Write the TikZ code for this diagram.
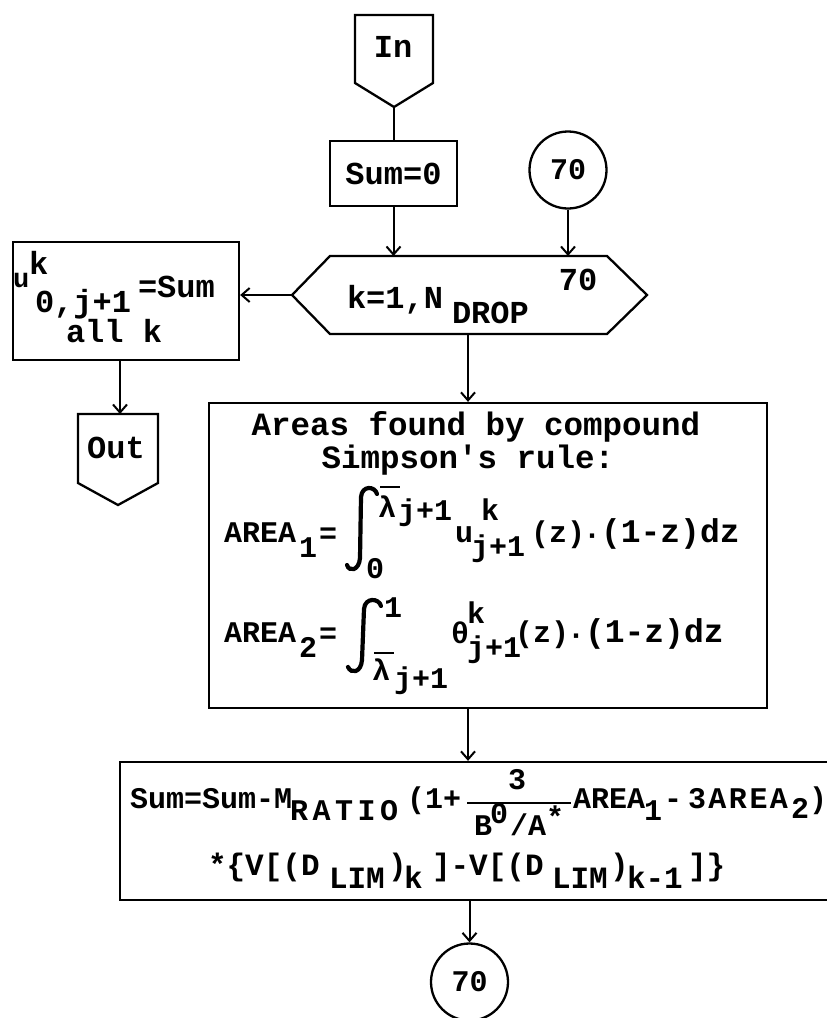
\documentclass[tikz,border=0pt]{standalone}
\usepackage{fontspec}
\newfontfamily\pf{Liberation Mono}
\usetikzlibrary{arrows.meta,shapes.geometric}
\newcommand\pfsz[1]{\pf\bfseries\fontsize{#1}{#1}\selectfont}
\begin{document}
\begin{tikzpicture}[x=1pt,y=-1pt,
  outline/.style={draw, line width=2.3pt, line join=miter},
  arr/.style={line width=2pt, -{Straight Barb[length=8pt,width=14pt]}},
  ln/.style={line width=2pt},
  bar/.style={line width=2.4pt},
  intg/.style={line width=4.2pt, line cap=round},
  t/.style={inner sep=0pt, outer sep=0pt, anchor=base west, font=\pfsz{30}},
  tl/.style={inner sep=0pt, outer sep=0pt, anchor=base west, font=\pfsz{32}},
  tc/.style={inner sep=0pt, outer sep=0pt, anchor=center, font=\pfsz{32}},
  conn/.style={outline, circle, minimum size=77pt, inner sep=0pt, font=\pfsz{30}}]
\useasboundingbox (0,0) rectangle (827,1018);
\fill[white] (0,0) rectangle (827,1018);
\clip (0,0) rectangle (827,1018);

% ---------- entry connector and initialisation ----------
\draw[outline] (355,15) -- (433,15) -- (433,83) -- (394,107) -- (355,83) -- cycle;
\coordinate (inTip) at (394,107);
\node[tc] (inTxt) at (393,47) {In};

\node[outline, minimum width=127pt, minimum height=65pt, inner sep=0pt, font=\pfsz{32}]
  (sum) at (393.5,173.5) {Sum=0};

\node[conn] (c70) at (568,170) {70};

% ---------- loop header ----------
\draw[outline] (330,256) -- (607,256) -- (647,295) -- (607,334) -- (330,334) -- (292,295) -- cycle;
\coordinate (hexL) at (292,295);
\coordinate (hexB) at (468,334);
\coordinate (hexTA) at (393.5,256);
\coordinate (hexTB) at (568,256);
\node[tl] (kN) at (347,308) {k=1,N};
\node[tl] (kDrop) at (452,323) {DROP};
\node[tc] (h70) at (578,280) {70};

% ---------- exit branch ----------
\node[outline, minimum width=226pt, minimum height=118pt, inner sep=0pt] (setu) at (126,301) {};
\node[tl, font=\pfsz{27}] (su) at (13,287) {u};
\node[tl] (sk) at (29,274) {k};
\node[tl] (sidx) at (35,312) {0,j+1};
\node[tl] (ssum) at (138,297) {=Sum};
\node[tl] (sall) at (66,342) {all k};

\draw[outline] (78,414) -- (158,414) -- (158,483) -- (118,505) -- (78,483) -- cycle;
\coordinate (outTop) at (120,414);
\node[tc] (outTxt) at (116,448) {Out};

% ---------- area integrals ----------
\node[outline, minimum width=558pt, minimum height=305pt, inner sep=0pt] (areas) at (488,555.5) {};
\node[tc, font=\pfsz{32.5}] (ar1) at (476,427) {Areas found by compound};
\node[tc, font=\pfsz{32.5}] (ar2) at (468,460) {Simpson's rule:};

% AREA_1
\node[t] (a1) at (224,542) {AREA};
\node[t] (a1s) at (299,557) {1};
\node[t] (a1e) at (319,543) {=};
\draw[intg] (377,494) .. controls (375,486) and (362,485) .. (361,497) -- (360,558)
            .. controls (359,571) and (349,572) .. (347,565);
\node[t] (a1lam) at (378,517) {λ};
\draw[bar] (380,487) -- (400,487);
\node[t] (a1up) at (398,520) {j+1};
\node[t] (a1lo) at (366,578) {0};
\node[t] (a1u) at (455,542) {u};
\node[t] (a1k) at (481,520) {k};
\node[t] (a1j) at (471,556) {j+1};
\node[t] (a1z) at (531,542) {(z)};
\node[t] (a1dot) at (583,544) {·};
\node[t, font=\pfsz{33}] (a1f) at (601,542) {(1-z)dz};

% AREA_2
\node[t] (a2) at (224,642) {AREA};
\node[t] (a2s) at (299,657) {2};
\node[t] (a2e) at (319,643) {=};
\draw[intg] (381,606) .. controls (379,598) and (365,597) .. (364,609) -- (362,660)
            .. controls (361,673) and (351,674) .. (348,667);
\node[t] (a2up) at (384,617) {1};
\node[t] (a2lam) at (372,680) {λ};
\draw[bar] (374,653) -- (394,653);
\node[t] (a2lo) at (394,688) {j+1};
\node[t] (a2th) at (451,643) {θ};
\node[t] (a2k) at (467,623) {k};
\node[t] (a2j) at (467,657) {j+1};
\node[t] (a2z) at (515,642) {(z)};
\node[t] (a2dot) at (567,644) {·};
\node[t, font=\pfsz{33}] (a2f) at (585,642) {(1-z)dz};

% ---------- running sum update ----------
\node[outline, minimum width=740pt, minimum height=138pt, inner sep=0pt] (upd) at (490,831) {};
\node[t] (u1) at (130,808) {Sum=Sum-M};
\node[t] (u2) at (290,820) {R\kern4.5pt A\kern4.5pt T\kern4.5pt I\kern4.5pt O};
\node[t] (u3) at (407,808) {(1+};
\node[tc, font=\pfsz{30}] (u4) at (517,780) {3};
\draw[ln] (467,803) -- (571,803);
\node[t] (u5) at (474,835) {B};
\node[t] (u6) at (490,823) {0};
\node[t] (u7) at (510,835) {/A};
\node[t] (u8) at (546,827) {*};
\node[t] (u9) at (573,808) {AREA};
\node[t] (u10) at (644,820) {1};
\node[t] (u11) at (664,808) {-};
\node[t] (u12) at (688,808) {3\kern2.5pt A\kern2.5pt R\kern2.5pt E\kern2.5pt A};
\node[t] (u13) at (791,818) {2};
\node[t] (u14) at (809,808) {)};

\node[t, font=\pfsz{31}] (v1) at (208,875) {*\{V[(D};
\node[t, font=\pfsz{31}] (v2) at (329,888) {LIM};
\node[t, font=\pfsz{31}] (v3) at (388,875) {)};
\node[t, font=\pfsz{31}] (v4) at (404,888) {k};
\node[t, font=\pfsz{31}] (v5) at (432,875) {]-V[(D};
\node[t, font=\pfsz{31}] (v6) at (552,888) {LIM};
\node[t, font=\pfsz{31}] (v7) at (610,875) {)};
\node[t, font=\pfsz{31}] (v8) at (627,888) {k-1};
\node[t, font=\pfsz{31}] (v9) at (688,875) {]\}};

\node[conn] (c70b) at (469.5,982) {70};

% ---------- connectors ----------
\draw[ln] (inTip) -- (sum.south |- inTip) -- (sum.north);
\draw[arr] (sum.south) -- (hexTA);
\draw[arr] (c70.south) -- (hexTB);
\draw[arr] (hexL) -- (hexL -| setu.east);
\draw[arr] (outTop |- setu.south) -- (outTop);
\draw[arr] (hexB) -- (hexB |- areas.north);
\draw[arr] (hexB |- areas.south) -- (hexB |- upd.north);
\draw[arr] (c70b.north |- upd.south) -- (c70b.north);
\end{tikzpicture}
\end{document}
